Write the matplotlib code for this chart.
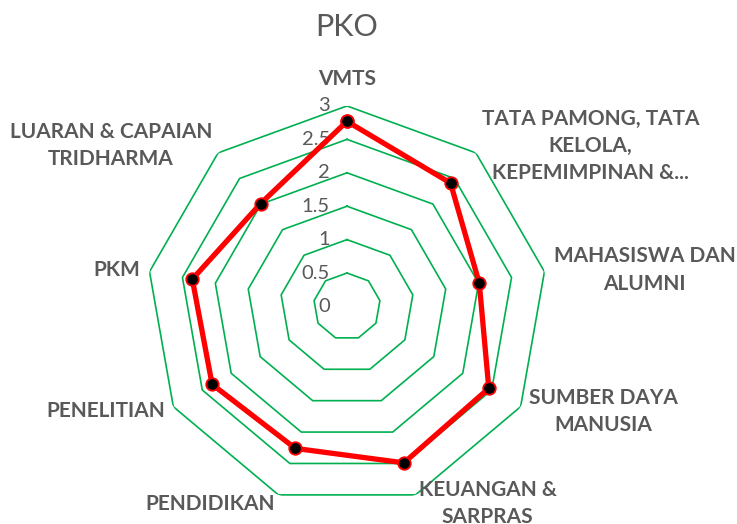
import numpy as np
import matplotlib
matplotlib.use("Agg")
import matplotlib.pyplot as plt

# data
categories = ["VMTS", "TATA PAMONG, TATA\nKELOLA,\nKEPEMIMPINAN &...",
              "MAHASISWA DAN\nALUMNI", "SUMBER DAYA\nMANUSIA", "KEUANGAN &\nSARPRAS",
              "PENDIDIKAN", "PENELITIAN", "PKM", "LUARAN & CAPAIAN\nTRIDHARMA"]
values = [2.77, 2.41, 2.01, 2.45, 2.49, 2.26, 2.33, 2.35, 2.01]
grid_levels = [0.5, 1, 1.5, 2, 2.5, 3]
tick_labels = ["0", "0.5", "1", "1.5", "2", "2.5", "3"]
tick_values = [0, 0.5, 1, 1.5, 2, 2.5, 3]

gray = "#595959"
green = "#00B050"

plt.rcParams['font.family'] = ['Lato', 'DejaVu Sans']

fig = plt.figure(figsize=(7.37, 5.24), dpi=100)
ax = fig.add_axes([0.1987, 0.0325, 0.5442, 0.7653], projection='polar')
ax.set_theta_zero_location('N')
ax.set_theta_direction(-1)
ax.set_ylim(0, 3)
ax.grid(False)
ax.spines['polar'].set_visible(False)
ax.set_xticks([])
ax.set_yticks([])
ax.patch.set_alpha(0)

n = len(categories)
angles = np.linspace(0, 2 * np.pi, n, endpoint=False)
closed = np.concatenate([angles, angles[:1]])

# gridline polygons
for lvl in grid_levels:
    ax.plot(closed, [lvl] * (n + 1), color=green, lw=1.2, zorder=1)

# radial tick labels
for tv, tl in zip(tick_values, tick_labels):
    ax.annotate(tl, xy=(0, tv), xytext=(-17, 0), textcoords='offset pixels',
                ha='right', va='center', fontsize=14.5, color=gray)

# series
vals = values + values[:1]
ax.plot(closed, vals, color='#FF0000', lw=3.8, zorder=3,
        marker='o', markersize=9, markerfacecolor='black',
        markeredgecolor='#FF0000', markeredgewidth=1.3)

# category labels
for ang, lab in zip(angles, categories):
    deg = np.degrees(ang)
    if deg < 1:
        ax.text(ang, 3.25, lab, ha='center', va='bottom', fontsize=15,
                fontweight='bold', color=gray)
        continue
    ha = 'left' if deg < 180 else 'right'
    ax.text(ang, 3.14, lab, ha=ha, va='center', fontsize=15, fontweight='bold',
            color=gray, multialignment='center', linespacing=1.45)

fig.text(0.4708, 1 - 27 / 524, "PKO", ha='center', va='center', fontsize=22,
         color=gray)

fig.savefig("out.png", dpi=100)
